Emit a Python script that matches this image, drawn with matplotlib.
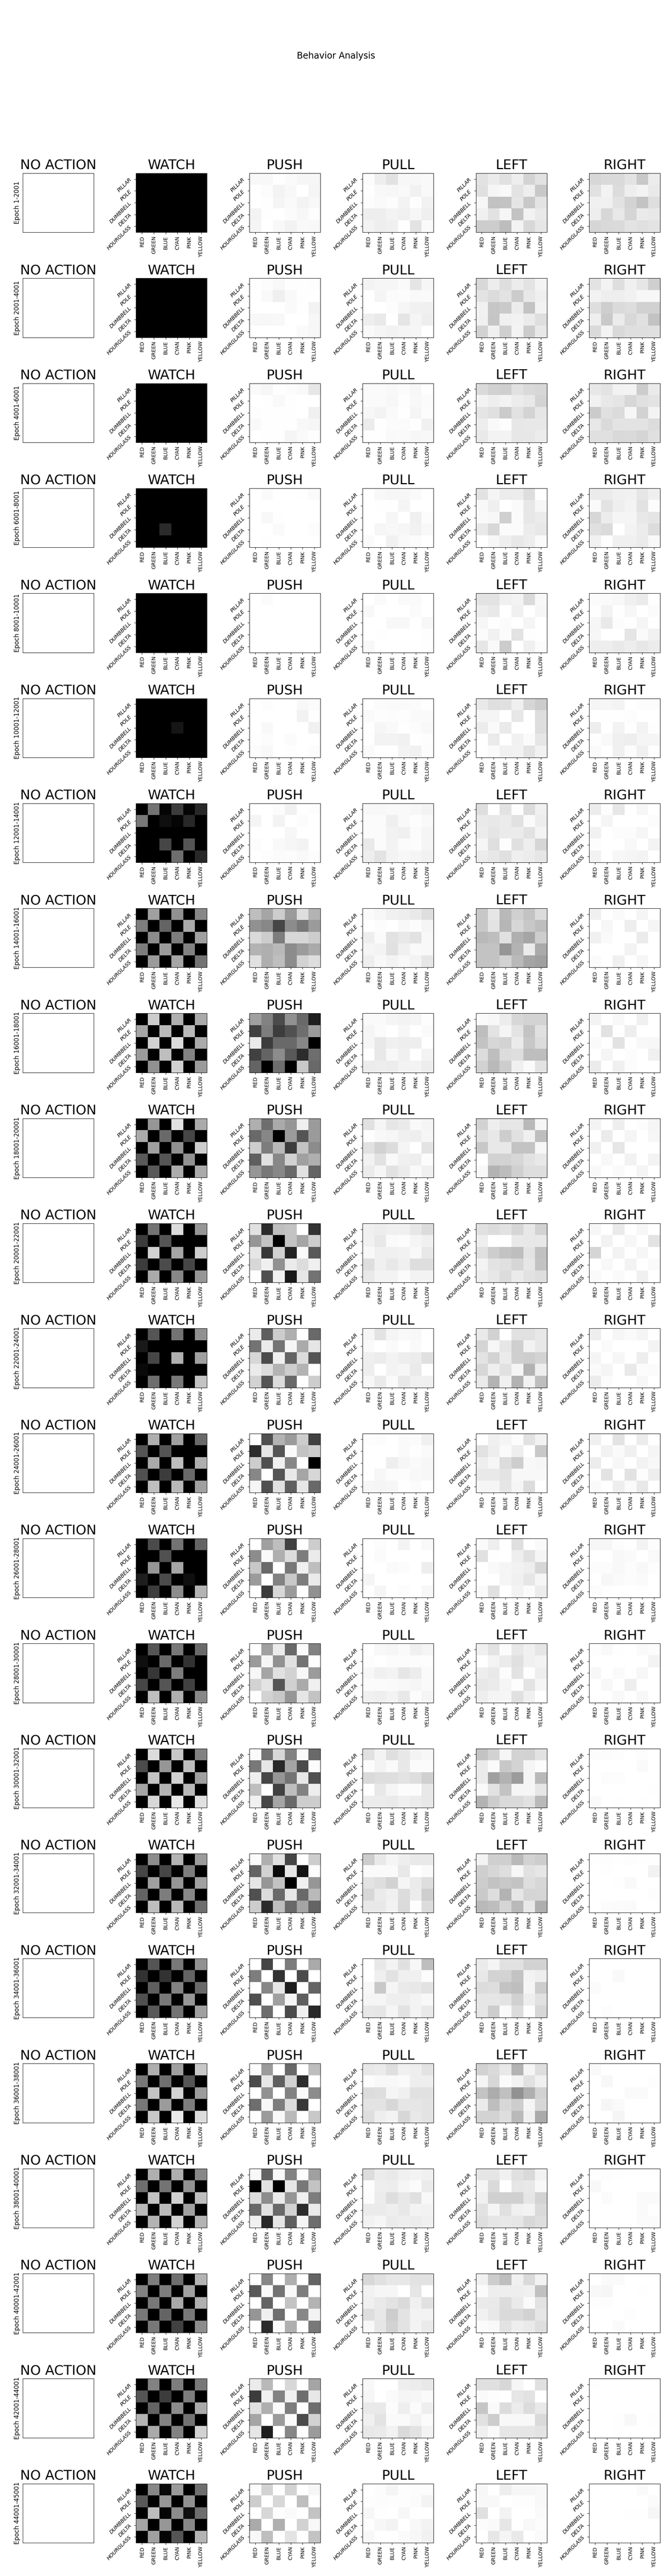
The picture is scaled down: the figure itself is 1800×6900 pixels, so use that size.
import numpy as np
import matplotlib
matplotlib.use('Agg')
import matplotlib.pyplot as plt

actions = ['NO ACTION', 'WATCH', 'PUSH', 'PULL', 'LEFT', 'RIGHT']
colors = ['RED', 'GREEN', 'BLUE', 'CYAN', 'PINK', 'YELLOW']
shapes = ['PILLAR', 'POLE', 'DUMBBELL', 'DELTA', 'HOURGLASS']
epochs = ['1-2001', '2001-4001', '4001-6001', '6001-8001', '8001-10001', '10001-12001',
          '12001-14001', '14001-16001', '16001-18001', '18001-20001', '20001-22001',
          '22001-24001', '24001-26001', '26001-28001', '28001-30001', '30001-32001',
          '32001-34001', '34001-36001', '36001-38001', '38001-40001', '40001-42001',
          '42001-44001', '44001-45001']

# grey level of each cell, one block per epoch
watch = [
    [[0,0,0,0,0,0],[0,0,0,0,0,0],[0,0,0,0,0,0],[0,0,0,0,0,0],[0,0,0,0,0,0]],
    [[0,0,0,0,0,0],[0,0,0,0,0,0],[0,0,0,0,0,0],[0,0,0,0,0,0],[0,0,0,0,0,0]],
    [[0,0,0,0,0,0],[0,0,0,0,0,0],[0,0,0,0,0,0],[0,0,0,0,0,0],[0,0,0,0,0,0]],
    [[0,0,0,0,0,0],[0,0,0,0,0,0],[0,0,0,0,0,0],[0,0,42,0,0,0],[0,0,0,0,0,0]],
    [[0,0,0,0,0,0],[0,0,0,0,0,0],[0,0,0,0,0,0],[0,0,0,0,0,0],[0,0,0,0,0,0]],
    [[0,0,0,0,0,0],[0,0,0,0,0,0],[0,0,0,22,0,0],[0,0,0,0,0,0],[0,0,0,0,0,0]],
    [[0,115,5,60,5,40],[120,0,15,5,40,0],[0,0,0,0,0,0],[0,0,70,0,85,0],[0,0,0,110,0,40]],
    [[0,160,0,145,0,135],[125,0,100,0,170,0],[0,140,0,125,0,160],[125,0,155,0,130,0],[0,155,0,165,0,115]],
    [[0,205,0,175,0,170],[165,0,185,0,185,0],[0,210,0,220,0,170],[155,0,190,0,130,0],[0,145,0,210,0,155]],
    [[0,150,0,225,0,170],[170,0,105,0,70,0],[0,160,0,145,0,205],[90,0,85,0,145,0],[0,90,0,172,0,170]],
    [[0,115,0,220,0,150],[60,0,85,0,0,0],[0,210,0,165,0,205],[60,0,75,0,70,0],[0,170,0,135,0,150]],
    [[0,85,0,115,0,145],[25,0,0,0,0,0],[0,70,0,175,0,160],[10,0,0,0,0,0],[0,110,0,120,0,195]],
    [[0,175,0,160,0,105],[85,0,85,0,0,0],[0,170,0,190,0,175],[80,0,60,0,105,0],[0,190,0,185,0,160]],
    [[0,75,0,115,0,100],[0,0,80,0,0,0],[0,150,0,165,0,0],[30,0,75,0,15,0],[0,60,0,140,0,180]],
    [[0,85,0,120,0,105],[15,0,105,0,50,0],[0,55,0,125,0,0],[70,0,85,0,65,0],[0,190,0,175,0,135]],
    [[0,220,0,200,0,130],[75,0,150,0,190,0],[0,195,0,210,0,160],[165,0,180,0,185,0],[0,215,0,232,0,225]],
    [[0,140,0,180,0,155],[70,0,70,0,125,0],[0,160,0,150,0,160],[100,0,125,0,135,0],[0,190,0,185,0,110]],
    [[0,85,0,120,0,145],[50,0,50,0,100,0],[0,95,0,130,0,105],[80,0,120,0,150,0],[0,90,0,115,0,160]],
    [[0,175,0,160,0,200],[120,0,110,0,85,0],[0,195,0,210,0,155],[120,0,155,0,125,0],[0,200,0,235,0,220]],
    [[0,175,0,175,0,135],[110,0,115,0,145,0],[0,195,0,210,0,190],[185,0,185,0,160,0],[0,180,0,210,0,180]],
    [[0,125,0,110,0,180],[130,0,125,0,160,0],[0,120,0,170,0,175],[120,0,100,0,120,0],[0,120,0,65,0,140]],
    [[0,130,0,125,0,120],[85,0,60,0,125,0],[0,100,0,140,0,170],[180,0,130,0,115,0],[0,170,0,130,0,210]],
    [[0,135,10,155,0,110],[90,0,150,0,145,0],[0,190,5,140,15,110],[165,0,150,0,135,0],[0,160,5,85,0,180]],
]

push = [
    [[248,248,254,250,246,246],[255,252,244,248,255,245],[255,254,245,250,244,248],[243,254,255,251,247,253],[245,255,248,242,249,248]],
    [[254,252,248,254,254,253],[255,249,239,249,254,255],[255,255,255,250,254,243],[248,247,248,255,255,247],[255,255,255,255,250,247]],
    [[250,246,254,252,249,231],[255,254,249,254,255,255],[253,254,254,254,255,240],[249,254,254,254,248,246],[255,254,254,245,250,253]],
    [[255,250,255,255,254,250],[255,255,255,255,255,255],[255,248,254,255,255,255],[255,255,250,255,255,252],[255,254,255,255,255,255]],
    [[255,251,255,255,255,255],[255,255,255,255,255,255],[255,255,255,255,255,255],[255,255,255,255,255,255],[255,255,255,255,255,255]],
    [[255,253,255,255,248,251],[255,255,255,255,242,254],[255,248,255,255,255,241],[254,252,255,251,255,255],[252,248,255,254,255,252]],
    [[255,255,252,241,255,253],[245,255,243,255,252,255],[255,255,255,247,255,255],[252,255,249,246,244,255],[255,253,251,252,249,252]],
    [[190,165,205,155,222,180],[145,135,70,140,120,155],[218,205,125,215,215,205],[180,175,185,140,155,170],[225,175,190,140,210,222]],
    [[160,130,75,145,105,30],[65,125,60,80,110,155],[235,60,105,105,135,0],[65,100,140,90,45,110],[100,0,110,0,200,105]],
    [[175,110,170,150,240,155],[105,135,0,155,85,155],[205,125,185,60,195,140],[95,225,135,210,160,175],[150,120,135,105,225,100]],
    [[225,45,190,195,255,50],[150,195,0,195,165,205],[230,55,210,35,250,90],[215,240,145,235,220,240],[255,80,240,25,230,115]],
    [[235,95,205,175,255,105],[115,235,115,245,170,230],[215,75,240,100,220,85],[235,220,180,205,180,253],[210,85,220,105,255,205]],
    [[255,80,180,155,205,65],[45,230,85,250,195,205],[205,80,240,135,255,0],[135,255,85,232,165,215],[245,80,225,95,230,105]],
    [[255,160,190,65,255,205],[140,250,175,220,125,235],[200,105,255,120,240,190],[155,255,130,200,125,235],[255,60,215,155,255,145]],
    [[255,160,235,105,250,130],[155,245,145,225,115,255],[247,165,225,210,248,155],[210,228,85,208,170,240],[255,210,200,150,230,195]],
    [[250,115,215,130,250,105],[120,230,40,165,75,252],[238,70,150,115,232,80],[190,255,65,190,130,238],[240,70,165,105,205,205]],
    [[250,175,225,70,253,205],[100,210,10,230,20,252],[230,150,195,0,240,150],[80,220,105,230,105,185],[205,45,190,105,165,100]],
    [[255,70,255,125,255,170],[125,255,50,255,75,255],[255,135,230,30,255,100],[80,255,160,245,95,255],[255,110,255,75,240,40]],
    [[252,155,255,105,255,190],[75,230,95,210,45,255],[255,145,255,130,250,140],[110,248,125,220,55,255],[255,155,248,185,255,200]],
    [[248,100,248,130,253,160],[0,225,0,230,120,195],[222,140,235,150,240,125],[105,225,105,210,45,235],[240,40,230,95,245,110]],
    [[255,135,255,175,255,100],[90,250,115,248,125,255],[255,100,255,195,255,180],[150,240,110,255,135,243],[255,45,250,175,255,120]],
    [[235,185,255,215,255,165],[60,240,130,240,110,232],[225,175,250,125,255,110],[165,255,155,250,75,210],[230,30,255,135,255,155]],
    [[252,210,255,212,255,246],[205,255,215,255,190,255],[255,215,253,250,255,195],[170,255,175,255,210,248],[248,190,255,228,255,195]],
]

pull = [
    [[252,238,226,247,247,249],[254,248,247,249,241,249],[252,249,252,243,253,242],[238,238,243,240,246,239],[244,238,240,254,228,250]],
    [[243,246,246,250,229,246],[255,245,251,252,249,250],[255,255,252,246,241,240],[238,233,255,229,245,238],[249,245,242,245,246,255]],
    [[250,250,248,251,247,254],[250,250,247,253,248,251],[247,244,250,254,245,252],[236,254,251,251,254,241],[254,254,249,250,247,248]],
    [[255,248,246,247,250,255],[255,254,254,245,255,255],[255,255,246,255,240,252],[255,246,248,246,242,248],[250,255,241,249,251,255]],
    [[255,250,255,250,250,255],[248,255,255,255,251,255],[255,255,248,248,255,247],[255,254,255,255,255,253],[248,255,255,255,255,254]],
    [[255,251,250,250,251,254],[250,253,252,253,250,250],[255,246,249,254,252,248],[254,243,243,241,254,253],[250,255,255,243,241,252]],
    [[248,247,249,249,247,243],[251,251,239,249,253,249],[251,251,242,240,251,245],[233,251,243,251,252,245],[238,228,244,247,245,241]],
    [[250,246,240,238,233,222],[255,252,255,248,252,245],[238,251,226,232,226,248],[245,243,225,240,249,248],[238,248,243,248,244,230]],
    [[250,250,245,244,245,253],[245,251,255,247,255,250],[246,232,240,238,238,255],[255,232,248,240,255,244],[236,237,236,244,244,237]],
    [[225,245,230,234,249,245],[254,248,246,240,238,246],[225,210,220,245,255,228],[242,226,249,240,238,252],[235,246,226,236,249,240]],
    [[240,237,240,240,231,220],[241,232,250,252,245,240],[248,240,240,242,249,232],[222,240,232,240,222,222],[233,243,244,251,244,243]],
    [[246,228,245,249,248,255],[250,255,250,255,250,255],[239,236,244,238,236,224],[238,255,244,246,234,255],[247,234,250,232,240,240]],
    [[253,252,255,250,251,240],[255,255,255,250,254,250],[255,255,238,246,250,247],[255,247,252,252,248,247],[246,245,246,254,251,255]],
    [[255,252,255,243,255,249],[255,251,255,255,255,255],[255,255,250,252,255,238],[245,255,255,255,255,255],[255,245,255,252,255,247]],
    [[255,248,246,250,240,245],[253,255,252,252,252,253],[247,240,243,230,236,250],[251,251,250,248,246,250],[240,238,243,232,252,245]],
    [[225,243,223,232,243,247],[252,244,250,232,251,251],[218,222,222,228,222,208],[255,232,245,252,252,232],[236,236,234,240,236,232]],
    [[205,233,245,238,233,233],[250,250,250,232,255,250],[228,222,210,245,235,222],[215,235,240,220,236,206],[232,232,242,218,253,220]],
    [[255,232,243,224,247,190],[255,239,226,240,240,252],[247,200,245,234,232,226],[245,245,238,238,243,248],[232,230,245,226,243,233]],
    [[232,235,223,240,238,228],[252,248,248,250,238,238],[220,222,245,240,225,225],[227,227,215,230,230,228],[222,238,244,215,232,228]],
    [[220,236,233,240,244,240],[253,238,237,246,251,235],[252,236,222,232,224,248],[235,235,238,232,243,242],[242,246,235,238,236,240]],
    [[216,225,231,232,226,226],[242,246,246,255,230,255],[240,233,228,218,240,225],[222,232,205,228,243,243],[248,230,210,228,244,234]],
    [[248,255,255,238,236,232],[246,255,250,245,246,250],[233,233,252,238,251,238],[240,228,250,250,244,251],[232,234,242,218,226,244]],
    [[254,252,245,253,252,252],[253,252,253,253,251,243],[247,254,255,247,255,255],[254,247,243,255,248,243],[248,255,255,250,247,241]],
]

left = [
    [[226,235,225,238,211,226],[224,245,249,228,238,200],[247,194,196,229,200,227],[240,226,246,196,242,233],[205,205,189,243,216,230]],
    [[216,237,222,236,228,243],[228,219,227,204,232,239],[241,198,202,236,196,242],[240,197,240,242,235,222],[210,240,207,243,204,232]],
    [[218,209,207,225,217,215],[243,238,243,236,232,211],[229,224,203,225,212,230],[237,249,253,231,232,232],[233,243,243,231,231,236]],
    [[226,245,236,236,221,255],[248,239,255,250,231,246],[249,247,207,251,231,235],[233,216,251,251,236,232],[255,246,239,232,237,250]],
    [[228,228,240,244,218,248],[237,233,255,240,255,246],[246,254,251,255,245,255],[251,241,251,227,254,255],[230,249,204,255,240,251]],
    [[233,223,224,239,214,204],[245,245,255,231,255,222],[236,250,234,255,255,222],[255,234,255,241,250,230],[255,250,241,242,227,241]],
    [[222,255,227,253,220,240],[234,232,235,225,250,237],[236,229,235,235,226,243],[245,222,253,224,238,214],[236,231,224,239,236,230]],
    [[200,230,185,207,195,220],[200,228,182,215,200,190],[185,190,225,175,165,205],[195,195,150,180,235,170],[195,195,210,185,165,160]],
    [[250,247,236,215,212,212],[190,228,245,228,195,224],[195,215,212,235,200,220],[220,190,220,222,190,190],[210,185,205,240,250,228]],
    [[210,238,230,230,185,246],[224,232,205,225,240,190],[200,232,232,195,195,246],[255,210,210,215,226,232],[248,180,188,208,222,222]],
    [[225,220,226,214,232,210],[238,255,255,233,232,232],[225,205,195,190,228,193],[243,228,224,214,230,196],[238,231,220,235,226,222]],
    [[234,210,255,225,225,232],[213,246,230,207,242,232],[228,212,235,207,205,212],[215,239,225,245,178,238],[234,180,240,178,242,190]],
    [[255,240,245,252,226,242],[225,238,250,238,255,200],[238,246,220,205,248,246],[233,233,228,248,248,248],[245,245,230,245,220,255]],
    [[250,238,255,223,255,250],[225,254,255,238,225,245],[255,249,245,242,238,215],[255,255,245,240,230,246],[250,224,255,244,251,236]],
    [[240,228,252,232,240,230],[255,243,235,224,240,243],[238,233,252,228,254,238],[232,235,245,253,228,245],[238,245,246,224,240,255]],
    [[195,210,245,212,210,226],[235,250,200,212,245,252],[235,160,178,155,245,185],[250,225,195,245,245,230],[180,205,218,218,225,185]],
    [[243,207,207,185,210,205],[207,215,222,247,225,230],[205,195,200,195,222,215],[202,222,180,230,213,213],[185,190,213,185,232,175]],
    [[235,245,225,225,210,210],[232,212,212,195,243,238],[220,222,195,190,245,205],[230,230,228,208,238,225],[230,205,250,220,253,215]],
    [[210,218,232,180,245,222],[245,215,250,242,225,240],[195,172,192,145,175,210],[235,190,215,205,245,215],[212,212,222,185,240,170]],
    [[229,229,240,224,217,242],[245,218,255,230,232,248],[240,208,208,208,230,212],[226,245,224,240,244,218],[222,230,232,230,216,222]],
    [[240,205,190,240,218,242],[251,238,238,238,240,192],[234,233,220,234,250,226],[241,232,218,218,210,230],[251,248,228,238,234,222]],
    [[224,224,215,246,255,224],[250,253,255,230,226,255],[198,250,220,236,220,233],[225,205,248,248,248,218],[240,250,230,230,230,228]],
    [[246,255,238,246,246,248],[248,248,255,253,253,248],[224,255,243,255,255,250],[252,250,230,255,248,252],[255,231,245,233,255,250]],
]

right = [
    [[215,218,218,228,200,236],[225,243,220,238,243,233],[240,240,226,211,196,222],[238,215,232,213,234,232],[214,217,218,228,224,228]],
    [[227,243,222,240,230,207],[242,238,238,241,247,247],[222,206,218,221,209,209],[238,201,235,216,225,196],[218,244,217,223,223,224]],
    [[231,228,242,244,204,234],[241,232,229,215,224,228],[203,224,219,246,210,244],[231,218,227,228,228,220],[224,224,217,218,213,224]],
    [[235,235,240,241,230,239],[250,228,238,243,226,252],[215,236,245,245,232,229],[224,219,255,244,236,220],[240,253,240,240,235,248]],
    [[251,250,248,240,235,254],[254,243,254,247,255,251],[246,233,252,254,245,255],[246,255,255,229,250,241],[238,238,233,237,231,236]],
    [[245,246,243,255,252,252],[255,254,254,252,255,255],[237,255,243,254,243,254],[254,249,240,238,245,245],[250,255,240,252,240,254]],
    [[236,253,231,255,246,255],[255,245,255,255,255,252],[241,255,252,252,246,255],[253,255,255,248,255,243],[242,255,247,245,244,255]],
    [[240,255,250,255,245,255],[255,247,255,238,255,245],[240,250,255,255,235,255],[255,255,255,244,255,255],[251,255,240,255,246,255]],
    [[244,255,248,255,240,255],[255,226,255,238,255,255],[250,255,226,255,248,247],[255,245,255,252,255,240],[235,255,240,252,255,255]],
    [[244,255,238,255,252,245],[255,235,255,245,255,246],[240,255,230,255,255,255],[255,248,255,242,255,243],[248,255,250,255,245,255]],
    [[246,255,234,255,247,255],[255,242,255,247,255,228],[213,255,243,255,246,255],[255,248,255,243,255,250],[250,255,250,255,240,255]],
    [[238,255,246,250,245,255],[255,250,255,255,255,243],[245,255,246,255,238,255],[250,245,255,233,252,251],[236,251,255,255,247,255]],
    [[240,255,228,255,236,255],[255,242,250,240,255,245],[236,255,247,255,242,248],[255,228,255,226,252,238],[250,255,238,250,232,255]],
    [[246,246,252,254,243,253],[255,255,248,250,255,249],[252,252,248,252,248,253],[255,247,250,252,250,255],[252,254,255,255,254,255]],
    [[253,249,254,255,250,252],[255,255,255,255,255,243],[247,255,250,255,247,255],[255,248,255,238,255,255],[255,255,249,255,248,255]],
    [[252,252,253,255,253,255],[255,255,255,255,250,255],[255,252,252,255,255,255],[255,255,255,255,255,254],[250,255,254,255,254,255]],
    [[254,253,254,253,254,254],[255,254,255,255,255,242],[255,255,254,249,255,255],[255,255,255,255,255,253],[255,252,251,250,255,255]],
    [[255,255,255,255,255,255],[255,255,249,255,255,255],[251,255,255,255,255,255],[255,255,255,255,255,255],[255,253,255,255,255,255]],
    [[249,255,255,255,255,255],[255,248,255,255,255,253],[255,255,255,250,250,255],[255,246,250,255,255,255],[255,255,245,255,255,255]],
    [[255,253,254,255,255,255],[248,255,255,255,255,255],[255,251,255,255,250,250],[255,255,255,255,250,254],[255,255,255,255,251,251]],
    [[255,250,250,255,255,255],[248,246,255,255,254,255],[253,253,255,255,255,255],[255,255,255,253,255,255],[255,255,250,255,255,255]],
    [[254,255,255,255,255,255],[255,255,255,255,255,255],[255,255,255,255,255,255],[255,255,254,248,255,254],[255,255,254,255,255,255]],
    [[255,255,255,255,250,255],[255,255,255,255,255,251],[255,255,255,254,254,246],[255,255,255,255,255,255],[255,255,255,255,255,255]],
]

panels = [None, watch, push, pull, left, right]

fig, axes = plt.subplots(len(epochs), len(actions), figsize=(18, 69), dpi=100)
fig.subplots_adjust(left=61/1800, right=1768/1800, top=1-464/6900, bottom=1-6811/6900,
                    wspace=113.4/190, hspace=123/158.3)
fig.suptitle('Behavior Analysis', fontsize=17)

for i, epoch in enumerate(epochs):
    for j, action in enumerate(actions):
        ax = axes[i][j]
        ax.set_title(action, fontsize=26, pad=8)
        if j == 0:
            ax.set_xticks([])
            ax.set_yticks([])
            ax.set_ylabel('Epoch ' + epoch, fontsize=12)
            continue
        ax.imshow(panels[j][i], cmap='gray', vmin=0, vmax=255)
        ax.set_xticks(range(len(colors)))
        ax.set_xticklabels(colors, rotation=90)
        ax.set_yticks(range(len(shapes)))
        ax.set_yticklabels(shapes, rotation=45, style='italic')

plt.savefig('out.png')
